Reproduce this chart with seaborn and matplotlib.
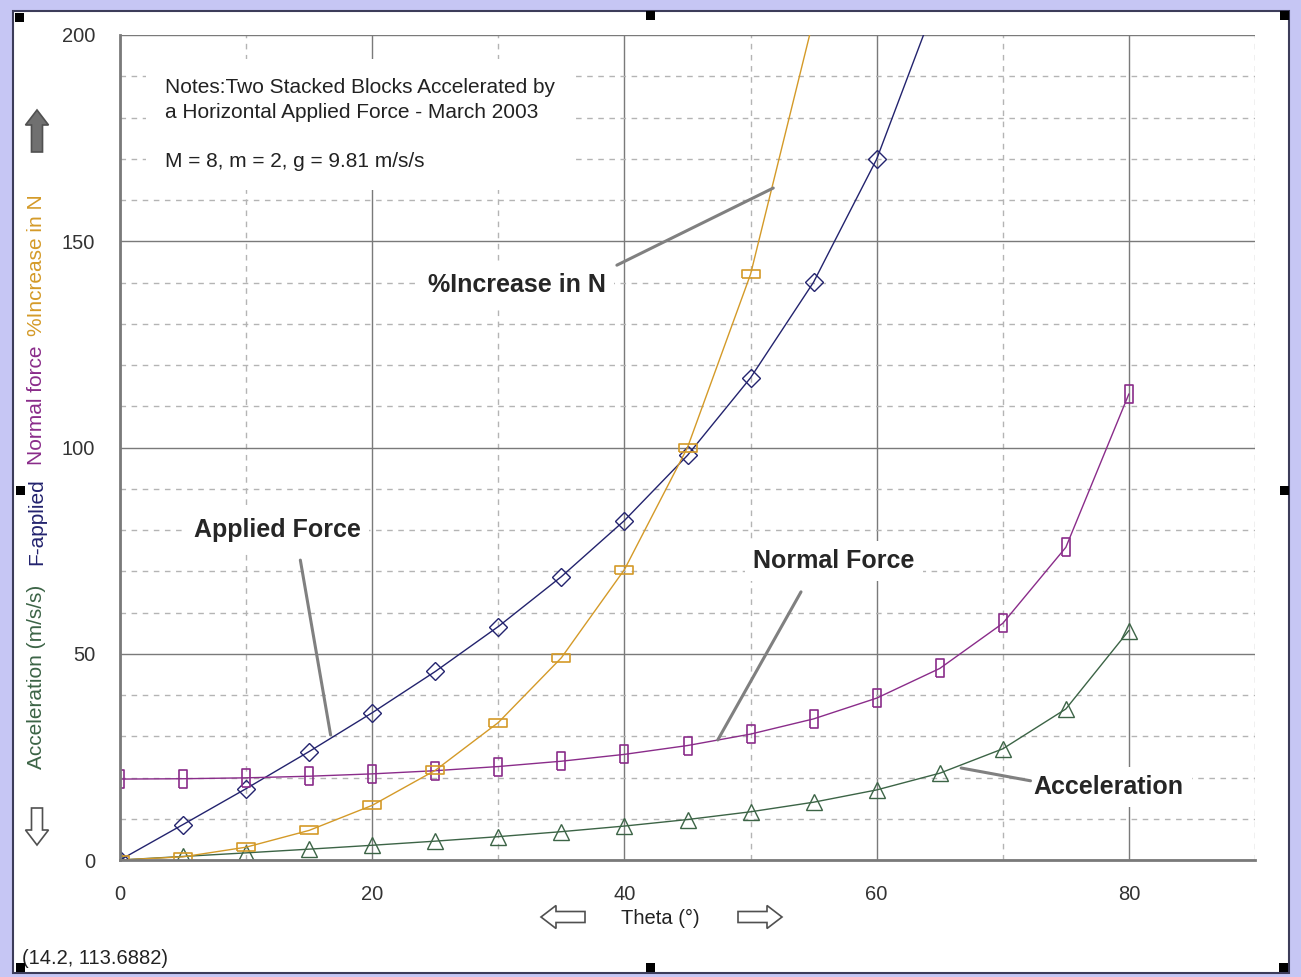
import numpy as np
import matplotlib.pyplot as plt
import matplotlib.patches as mpatches
import seaborn as sns

# values
theta = [0, 5, 10, 15, 20, 25, 30, 35, 40, 45, 50, 55, 60, 65, 70, 75, 80]
accel = [0, 0.86, 1.73, 2.63, 3.57, 4.57, 5.66, 6.87, 8.23, 9.81, 11.69, 14.01, 16.99, 21.04, 26.95, 36.61, 55.63]
f_applied = [0, 8.6, 17.3, 26.3, 35.7, 45.7, 56.6, 68.7, 82.3, 98.1, 116.9, 140.1, 169.9, 210.4]
normal = [19.62, 19.70, 19.92, 20.31, 20.88, 21.65, 22.66, 23.95, 25.61, 27.75, 30.52, 34.21, 39.24, 46.43, 57.37, 75.80, 112.99]
pct_n = [0, 0.77, 3.11, 7.18, 13.25, 21.74, 33.33, 49.03, 70.41, 100.0, 142.0, 203.9]

notes = 'Notes:Two Stacked Blocks Accelerated by\na Horizontal Applied Force - March 2003\n\nM = 8, m = 2, g = 9.81 m/s/s'

c_acc = '#3c6446'
c_f = '#23236e'
c_n = '#8a2c8a'
c_pct = '#d49a28'

sns.set_style('white')
plt.rcParams['font.family'] = ['Liberation Sans', 'DejaVu Sans']

fig = plt.figure(figsize=(13.01, 9.77), dpi=100, facecolor='#c6c6f4')
inch = fig.dpi_scale_trans

# white panel with frame
fig.add_artist(mpatches.Rectangle((0.13, 0.04), 12.76, 9.62, transform=inch,
                                  fc='white', ec='#3c3c5a', lw=1.5, zorder=0))
for cx, cy in [(19, 17), (650, 15), (1284, 15), (20, 491), (1284, 491),
               (20, 967), (650, 967), (1283, 967)]:
    fig.add_artist(mpatches.Rectangle((cx / 100 - 0.045, (977 - cy) / 100 - 0.045), 0.09, 0.09,
                                      transform=inch, fc='black', ec='none', zorder=5))

ax = fig.add_axes([120 / 1301, 117 / 977, 1135 / 1301, 825 / 977])
ax.set_facecolor('none')

rect_v = [(-0.4, -1), (0.4, -1), (0.4, 1), (-0.4, 1), (-0.4, -1)]
rect_h = [(-1, -0.45), (1, -0.45), (1, 0.45), (-1, 0.45), (-1, -0.45)]

sns.lineplot(x=theta, y=accel, ax=ax, color=c_acc, lw=1, marker='^', ms=11,
             mfc='none', mec=c_acc, mew=1)
sns.lineplot(x=theta[:len(f_applied)], y=f_applied, ax=ax, color=c_f, lw=1, marker='D', ms=9,
             mfc='none', mec=c_f, mew=1)
sns.lineplot(x=theta, y=normal, ax=ax, color=c_n, lw=1, marker=rect_v, ms=13,
             mfc='none', mec=c_n, mew=1.2)
sns.lineplot(x=theta[:len(pct_n)], y=pct_n, ax=ax, color=c_pct, lw=1, marker=rect_h, ms=13,
             mfc='none', mec=c_pct, mew=1.2)

ax.set_xlim(0, 90)
ax.set_ylim(0, 200)
ax.set_xticks([0, 20, 40, 60, 80])
ax.set_xticks(np.arange(10, 91, 20), minor=True)
ax.set_yticks([0, 50, 100, 150, 200])
ax.set_yticks([v for v in range(10, 200, 10) if v % 50], minor=True)
ax.grid(which='major', color='#7a7a7a', lw=1, ls='-')
ax.grid(which='minor', color='#b4b4b4', lw=1, ls=(0, (4, 4)))
ax.set_axisbelow(True)
for s in ['top', 'right']:
    ax.spines[s].set_visible(False)
for s in ['left', 'bottom']:
    ax.spines[s].set_color('#7a7a7a')
    ax.spines[s].set_linewidth(2)
ax.tick_params(which='major', direction='out', length=15, width=1.2, color='#222222',
               labelsize=14.5, labelcolor='#333333', pad=3)
ax.tick_params(which='minor', direction='out', length=8, width=1.2, color='#222222')
ax.set_xlabel('')
ax.set_ylabel('')

# annotations
box = dict(fc='white', ec='none', pad=6)
ax.text(3.6, 189.5, notes, fontsize=15, va='top', ha='left', color='#222222',
        linespacing=1.36, bbox=dict(fc='white', ec='none', pad=14), zorder=3)
ax.text(12.5, 80, 'Applied Force', fontsize=18, fontweight='bold', ha='center', va='center',
        bbox=box, zorder=3)
ax.plot([14.3, 16.7], [72.7, 30.3], color='#808080', lw=2.2, zorder=3)
ax.text(31.5, 139.4, '%Increase in N', fontsize=18, fontweight='bold', ha='center', va='center',
        bbox=box, zorder=3)
ax.plot([39.4, 51.8], [144.2, 162.9], color='#808080', lw=2.2, zorder=3)
ax.text(56.6, 72.5, 'Normal Force', fontsize=18, fontweight='bold', ha='center', va='center',
        bbox=box, zorder=3)
ax.plot([47.4, 54.0], [29.1, 65.0], color='#808080', lw=2.2, zorder=3)
ax.text(78.4, 17.7, 'Acceleration', fontsize=18, fontweight='bold', ha='center', va='center',
        bbox=box, zorder=3)
ax.plot([66.7, 72.2], [22.3, 19.2], color='#808080', lw=2.2, zorder=3)

# axis titles
fig.text(660 / 1301, (977 - 918) / 977, 'Theta (°)', fontsize=14.5, ha='center', va='center',
         color='#222222')
for label, col, cy in [('Acceleration (m/s/s)', c_acc, 677), ('F-applied', c_f, 522),
                       ('Normal force', c_n, 405), ('%Increase in N', c_pct, 265)]:
    fig.text(37 / 1301, (977 - cy) / 977, label, fontsize=15, rotation=90, color=col,
             ha='center', va='center')
fig.text(22 / 1301, (977 - 958) / 977, '(14.2, 113.6882)', fontsize=14.5, ha='left', va='center',
         color='#222222')

# arrow buttons
arrows = [((0.37, 8.25), (0, 0.42), '#707070'),
          ((0.37, 1.69), (0, -0.37), 'white'),
          ((5.85, 0.60), (-0.44, 0), 'white'),
          ((7.38, 0.60), (0.44, 0), 'white')]
for (x0, y0), (dx, dy), fc in arrows:
    fig.add_artist(mpatches.FancyArrow(x0, y0, dx, dy, width=0.11, head_width=0.23,
                                       head_length=0.15, length_includes_head=True,
                                       transform=inch, fc=fc, ec='#505050', lw=1.2))

fig.savefig('out.png', dpi=100, facecolor=fig.get_facecolor())
